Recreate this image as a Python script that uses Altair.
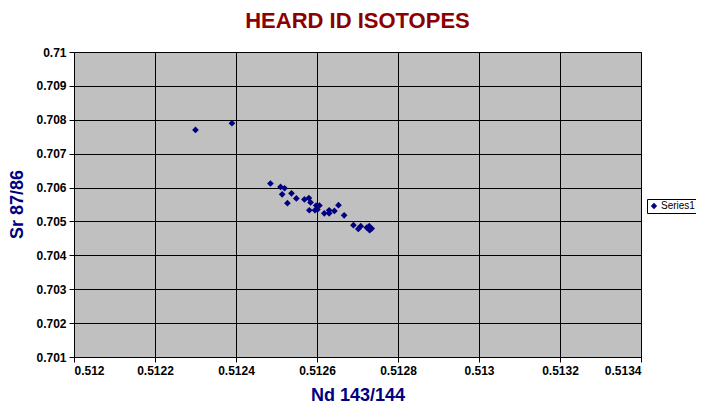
import altair as alt
import pandas as pd

nd = [0.51230, 0.51239, 0.512485, 0.51251, 0.51252, 0.512514, 0.512537, 0.512527,
      0.512549, 0.512569, 0.51258, 0.512584, 0.512581, 0.512598, 0.512606, 0.512595,
      0.512601, 0.512618, 0.51263, 0.51263, 0.512643, 0.512653, 0.512667, 0.51269,
      0.512702, 0.512708, 0.512723, 0.512729, 0.51273, 0.512735]
sr = [0.7077, 0.7079, 0.70612, 0.70602, 0.70598, 0.70580, 0.70583, 0.70554,
      0.70568, 0.70565, 0.70569, 0.70556, 0.70533, 0.70547, 0.70547, 0.70533,
      0.70535, 0.70524, 0.70533, 0.70524, 0.70531, 0.70548, 0.70518, 0.70489,
      0.70478, 0.70486, 0.70482, 0.70486, 0.70474, 0.70479]
series = ["Series1"] * len(nd)

x_ticks = [0.512, 0.5122, 0.5124, 0.5126, 0.5128, 0.513, 0.5132, 0.5134]
y_ticks = [0.701, 0.702, 0.703, 0.704, 0.705, 0.706, 0.707, 0.708, 0.709, 0.71]

df = pd.DataFrame({"nd": nd, "sr": sr, "series": series})

FONT = "Liberation Sans"

chart = alt.Chart(df).mark_point(filled=True, shape="diamond", size=45, opacity=1).encode(
    x=alt.X("nd:Q",
            scale=alt.Scale(domain=[0.512, 0.5134], nice=False, zero=False),
            axis=alt.Axis(values=x_ticks, format=".4~f", title="Nd 143/144",
                          titleY=38, titleBaseline="middle")),
    y=alt.Y("sr:Q",
            scale=alt.Scale(domain=[0.701, 0.71], nice=False, zero=False),
            axis=alt.Axis(values=y_ticks, format=".3~f", title="Sr 87/86",
                          titleX=-57, titleY=152, titleAngle=270, titleBaseline="middle")),
    color=alt.Color("series:N", scale=alt.Scale(range=["#000080"]),
                    legend=alt.Legend(title=None, orient="none", legendX=573, legendY=147,
                                      strokeColor="black", fillColor="white", padding=2,
                                      symbolType="diamond", symbolSize=40, symbolOffset=0,
                                      labelOffset=2,
                                      labelFontSize=10, labelFont=FONT, labelColor="black",
                                      symbolStrokeWidth=0)),
).properties(
    width=567,
    height=305,
    background="white",
    autosize=alt.AutoSizeParams(type="none"),
    padding={"left": 66, "top": 44, "right": 55, "bottom": 48},
    title=alt.Title("HEARD ID ISOTOPES", fontSize=22, font=FONT, fontWeight="bold",
                    color="#8B0000", anchor="middle", offset=13),
).configure_view(
    fill="#C0C0C0", stroke="#808080", strokeWidth=1
).configure_axis(
    grid=True, gridColor="black", gridOpacity=1, gridWidth=1,
    domainColor="black", tickColor="black", tickSize=5,
    labelFont=FONT, labelFontSize=12, labelFontWeight="bold", labelColor="black",
    labelPadding=3,
    titleFont=FONT, titleFontSize=18, titleFontWeight="bold", titleColor="#000080",
)

chart.save("out.html", embed_options={"renderer": "svg", "actions": False})
